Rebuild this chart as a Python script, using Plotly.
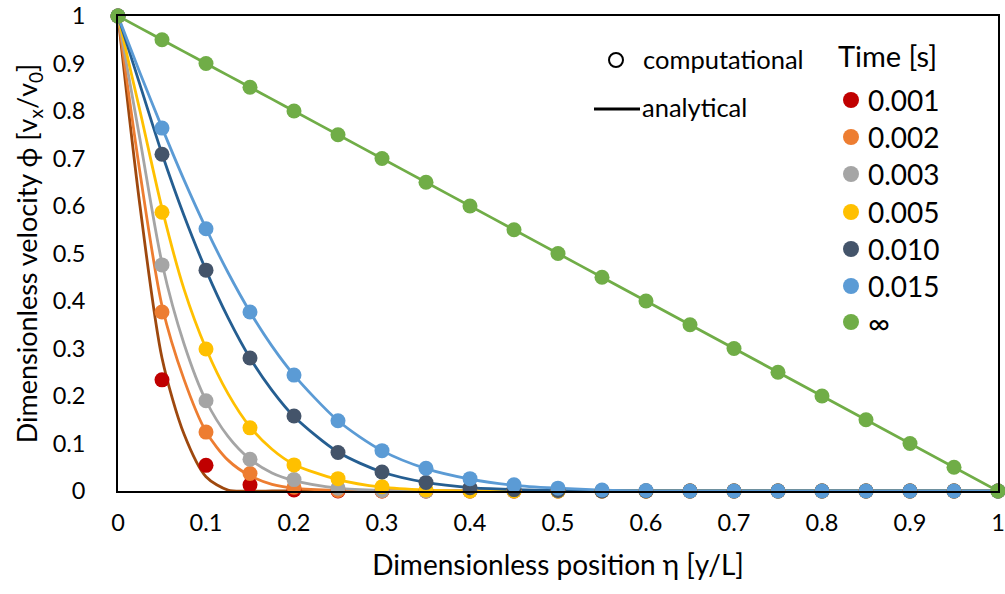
import plotly.graph_objects as go

# ---------------- data ----------------
comp_x = [0, 0.05, 0.1, 0.15, 0.2, 0.25, 0.3, 0.35, 0.4, 0.45, 0.5,
          0.55, 0.6, 0.65, 0.7, 0.75, 0.8, 0.85, 0.9, 0.95, 1.0]
comp_0001 = [1, 0.234, 0.054, 0.013, 0.002, 0, 0, 0, 0, 0, 0, 0, 0, 0, 0, 0, 0, 0, 0, 0, 0]
comp_0002 = [1, 0.377, 0.124, 0.037, 0.008, 0.001, 0, 0, 0, 0, 0, 0, 0, 0, 0, 0, 0, 0, 0, 0, 0]
comp_0003 = [1, 0.476, 0.190, 0.067, 0.024, 0.006, 0.001, 0, 0, 0, 0, 0, 0, 0, 0, 0, 0, 0, 0, 0, 0]
comp_0005 = [1, 0.587, 0.299, 0.133, 0.055, 0.026, 0.009, 0.002, 0, 0, 0, 0, 0, 0, 0, 0, 0, 0, 0, 0, 0]
comp_0010 = [1, 0.709, 0.465, 0.280, 0.158, 0.081, 0.040, 0.018, 0.007, 0.003, 0.001, 0, 0, 0, 0, 0, 0, 0, 0, 0, 0]
comp_0015 = [1, 0.764, 0.552, 0.377, 0.244, 0.148, 0.085, 0.048, 0.026, 0.013, 0.006, 0.002, 0.001, 0, 0, 0, 0, 0, 0, 0, 0]
comp_inf = [1, 0.95, 0.9, 0.85, 0.8, 0.75, 0.7, 0.65, 0.6, 0.55, 0.5,
            0.45, 0.4, 0.35, 0.3, 0.25, 0.2, 0.15, 0.1, 0.05, 0]

ana_x = [0, 0.025, 0.05, 0.075, 0.1, 0.125, 0.15, 0.175, 0.2, 0.25, 0.3,
         0.35, 0.4, 0.45, 0.5, 0.55, 0.6, 1.0]
ana_0001 = [1, 0.60, 0.28, 0.12, 0.03, 0.002, 0, 0, 0, 0, 0, 0, 0, 0, 0, 0, 0, 0]
ana_0002 = [1, 0.67, 0.39, 0.235, 0.125, 0.065, 0.032, 0.014, 0.006, 0.001, 0, 0, 0, 0, 0, 0, 0, 0]
ana_0003 = [1, 0.74, 0.48, 0.31, 0.19, 0.115, 0.067, 0.038, 0.022, 0.006, 0.001, 0, 0, 0, 0, 0, 0, 0]
ana_0005 = [1, 0.80, 0.595, 0.425, 0.30, 0.205, 0.135, 0.088, 0.056, 0.024, 0.008, 0.002, 0, 0, 0, 0, 0, 0]
ana_0010 = [1, 0.855, 0.71, 0.58, 0.465, 0.365, 0.28, 0.212, 0.157, 0.082, 0.04, 0.018, 0.007, 0.003, 0.001, 0, 0, 0]
ana_0015 = [1, 0.88, 0.765, 0.655, 0.553, 0.46, 0.377, 0.305, 0.244, 0.148, 0.085, 0.047, 0.025, 0.012, 0.006, 0.002, 0, 0]
ana_inf = [1, 0.975, 0.95, 0.925, 0.9, 0.875, 0.85, 0.825, 0.8, 0.75, 0.7,
           0.65, 0.6, 0.55, 0.5, 0.45, 0.4, 0]

time_labels = ["0.001", "0.002", "0.003", "0.005", "0.010", "0.015", "∞"]
comp_series = [comp_0001, comp_0002, comp_0003, comp_0005, comp_0010, comp_0015, comp_inf]
ana_series = [ana_0001, ana_0002, ana_0003, ana_0005, ana_0010, ana_0015, ana_inf]

tick_vals = [0, 0.1, 0.2, 0.3, 0.4, 0.5, 0.6, 0.7, 0.8, 0.9, 1]
tick_text = ["0", "0.1", "0.2", "0.3", "0.4", "0.5", "0.6", "0.7", "0.8", "0.9", "1"]

# ---------------- styles ----------------
marker_colors = ["#C00000", "#ED7D31", "#A5A5A5", "#FFC000", "#44546A", "#5B9BD5", "#70AD47"]
line_colors = ["#9E480E", "#ED7D31", "#A5A5A5", "#FFC000", "#255E91", "#5B9BD5", "#70AD47"]
FONT = "Lato, 'Noto Sans', 'DejaVu Sans', sans-serif"

W, H = 1005, 594
L, R, T, B = 118, 7, 16, 103
PW, PH = W - L - R, H - T - B


def px2paper(px, py):
    return (px - L) / PW, (H - B - py) / PH


fig = go.Figure()

for ys, col, name in zip(ana_series, line_colors, time_labels):
    fig.add_trace(go.Scatter(
        x=ana_x, y=ys, mode="lines", name=name + " analytical",
        line=dict(color=col, width=2.8, shape="spline", smoothing=0.8),
        showlegend=False, cliponaxis=True, hoverinfo="skip"))

for ys, col, name in zip(comp_series, marker_colors, time_labels):
    fig.add_trace(go.Scatter(
        x=comp_x, y=ys, mode="markers", name=name,
        marker=dict(color=col, size=15, line=dict(width=0)),
        showlegend=False, cliponaxis=False))

# ---------------- legend (manual) ----------------
shapes = []
annotations = []

# computational
cx, cy = px2paper(616, 60)
shapes.append(dict(type="circle", xref="paper", yref="paper", xsizemode="pixel", ysizemode="pixel",
                   xanchor=cx, yanchor=cy, x0=-7, x1=7, y0=-7, y1=7,
                   line=dict(color="black", width=2), fillcolor="white"))
ax_, ay_ = px2paper(641, 59)
annotations.append(dict(text="computational", xref="paper", yref="paper", x=ax_, y=ay_,
                        xanchor="left", yanchor="middle", showarrow=False,
                        font=dict(family=FONT, size=25.5, color="black")))
# analytical
lx0, ly = px2paper(594, 109)
lx1, _ = px2paper(640, 109)
shapes.append(dict(type="line", xref="paper", yref="paper", x0=lx0, x1=lx1, y0=ly, y1=ly,
                   line=dict(color="black", width=3)))
ax_, ay_ = px2paper(640, 107)
annotations.append(dict(text="analytical", xref="paper", yref="paper", x=ax_, y=ay_,
                        xanchor="left", yanchor="middle", showarrow=False,
                        font=dict(family=FONT, size=25.5, color="black")))
# Time title
ax_, ay_ = px2paper(836, 55)
annotations.append(dict(text="Time [s]", xref="paper", yref="paper", x=ax_, y=ay_,
                        xanchor="left", yanchor="middle", showarrow=False,
                        font=dict(family=FONT, size=29, color="black")))
legend_y = [100, 137, 174, 212, 249, 286, 322]
for lab, col, py in zip(time_labels, marker_colors, legend_y):
    mx, my = px2paper(851, py)
    shapes.append(dict(type="circle", xref="paper", yref="paper", xsizemode="pixel", ysizemode="pixel",
                       xanchor=mx, yanchor=my, x0=-8, x1=8, y0=-8, y1=8,
                       line=dict(width=0), fillcolor=col))
    tx, ty = px2paper(866, py)
    annotations.append(dict(text=lab, xref="paper", yref="paper", x=tx, y=ty,
                            xanchor="left", yanchor="middle", showarrow=False,
                            font=dict(family=FONT, size=28 if lab != "∞" else 30, color="black")))

axis_common = dict(showgrid=False, zeroline=False, showline=True, linecolor="black",
                   linewidth=1.6, mirror=True, ticks="", range=[0, 1],
                   tickvals=tick_vals, ticktext=tick_text,
                   tickfont=dict(family=FONT, size=23.5, color="black"))

fig.update_layout(
    width=W, height=H,
    margin=dict(l=L, r=R, t=T, b=B, pad=0, autoexpand=False),
    paper_bgcolor="white", plot_bgcolor="white",
    showlegend=False,
    xaxis=dict(**axis_common, ticklabelstandoff=10, automargin=True,
               title=dict(text="Dimensionless position η [y/L]",
                          font=dict(family=FONT, size=28, color="black"), standoff=20)),
    yaxis=dict(**axis_common, ticklabelstandoff=26, automargin=False,
               title=dict(text="Dimensionless velocity ϕ [v<sub>x</sub>/v<sub>0</sub>]",
                          font=dict(family=FONT, size=27, color="black"), standoff=7)),
    shapes=shapes,
    annotations=annotations,
)

fig.write_html("out.html", config={"displayModeBar": False},
               post_script="document.body.style.margin='0';document.body.style.padding='0';")
